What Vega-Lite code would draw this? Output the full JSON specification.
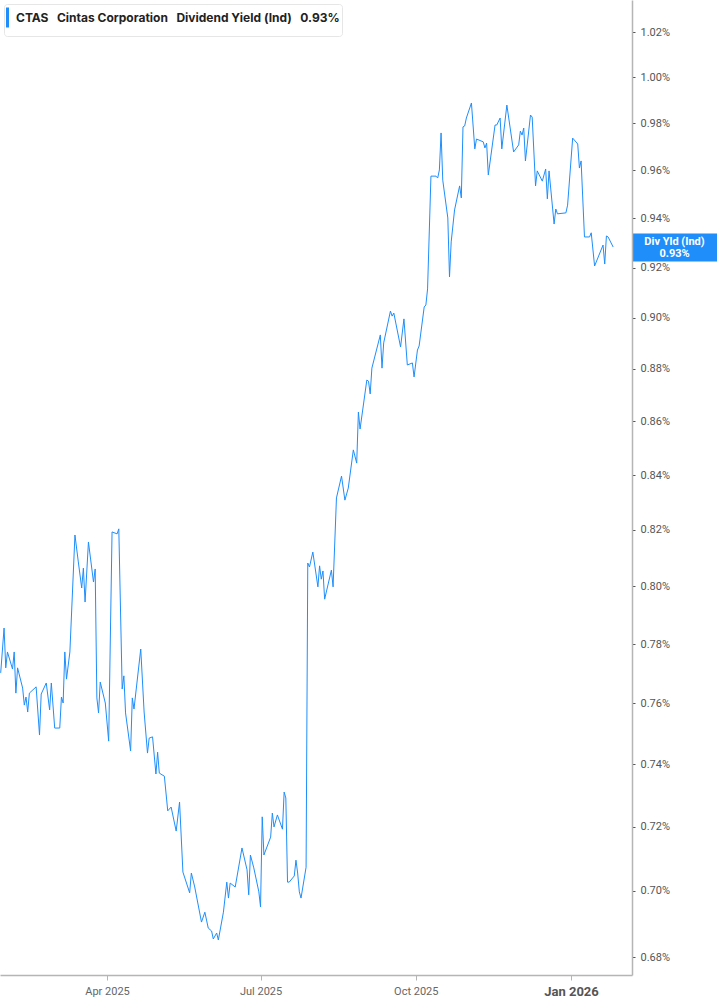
{
  "$schema": "https://vega.github.io/schema/vega-lite/v6.json",
  "width": 632,
  "height": 975,
  "autosize": "none",
  "padding": {"left": 0, "top": 0, "right": 85, "bottom": 30},
  "background": "white",
  "config": {"view": {"stroke": null}, "font": "Roboto"},
  "data": {"values": [
    {"date": "2025-01-28", "yield": 0.7702},
    {"date": "2025-01-30", "yield": 0.7855},
    {"date": "2025-01-31", "yield": 0.7719},
    {"date": "2025-02-01", "yield": 0.7773},
    {"date": "2025-02-04", "yield": 0.7715},
    {"date": "2025-02-05", "yield": 0.7773},
    {"date": "2025-02-06", "yield": 0.7634},
    {"date": "2025-02-07", "yield": 0.7719},
    {"date": "2025-02-10", "yield": 0.7651},
    {"date": "2025-02-11", "yield": 0.7594},
    {"date": "2025-02-12", "yield": 0.7621},
    {"date": "2025-02-13", "yield": 0.7571},
    {"date": "2025-02-14", "yield": 0.7634},
    {"date": "2025-02-18", "yield": 0.7655},
    {"date": "2025-02-20", "yield": 0.7495},
    {"date": "2025-02-21", "yield": 0.7631},
    {"date": "2025-02-24", "yield": 0.7668},
    {"date": "2025-02-26", "yield": 0.7578},
    {"date": "2025-02-27", "yield": 0.7668},
    {"date": "2025-03-01", "yield": 0.7518},
    {"date": "2025-03-04", "yield": 0.7518},
    {"date": "2025-03-05", "yield": 0.7621},
    {"date": "2025-03-06", "yield": 0.7601},
    {"date": "2025-03-07", "yield": 0.7773},
    {"date": "2025-03-08", "yield": 0.7681},
    {"date": "2025-03-10", "yield": 0.7773},
    {"date": "2025-03-13", "yield": 0.8182},
    {"date": "2025-03-15", "yield": 0.8086},
    {"date": "2025-03-17", "yield": 0.7994},
    {"date": "2025-03-18", "yield": 0.8064},
    {"date": "2025-03-19", "yield": 0.7945},
    {"date": "2025-03-21", "yield": 0.8157},
    {"date": "2025-03-24", "yield": 0.8015},
    {"date": "2025-03-25", "yield": 0.8061},
    {"date": "2025-03-26", "yield": 0.7618},
    {"date": "2025-03-27", "yield": 0.7568},
    {"date": "2025-03-28", "yield": 0.7671},
    {"date": "2025-03-31", "yield": 0.7601},
    {"date": "2025-04-02", "yield": 0.7475},
    {"date": "2025-04-04", "yield": 0.8193},
    {"date": "2025-04-07", "yield": 0.8186},
    {"date": "2025-04-08", "yield": 0.8204},
    {"date": "2025-04-10", "yield": 0.7648},
    {"date": "2025-04-11", "yield": 0.7692},
    {"date": "2025-04-12", "yield": 0.7568},
    {"date": "2025-04-15", "yield": 0.7443},
    {"date": "2025-04-16", "yield": 0.7618},
    {"date": "2025-04-17", "yield": 0.7581},
    {"date": "2025-04-21", "yield": 0.7783},
    {"date": "2025-04-23", "yield": 0.7571},
    {"date": "2025-04-25", "yield": 0.7436},
    {"date": "2025-04-26", "yield": 0.7485},
    {"date": "2025-04-28", "yield": 0.7489},
    {"date": "2025-04-30", "yield": 0.7368},
    {"date": "2025-05-01", "yield": 0.7439},
    {"date": "2025-05-02", "yield": 0.7371},
    {"date": "2025-05-05", "yield": 0.7361},
    {"date": "2025-05-07", "yield": 0.7250},
    {"date": "2025-05-09", "yield": 0.7262},
    {"date": "2025-05-12", "yield": 0.7186},
    {"date": "2025-05-14", "yield": 0.7278},
    {"date": "2025-05-16", "yield": 0.7058},
    {"date": "2025-05-20", "yield": 0.6994},
    {"date": "2025-05-21", "yield": 0.7055},
    {"date": "2025-05-23", "yield": 0.7012},
    {"date": "2025-05-27", "yield": 0.6905},
    {"date": "2025-05-29", "yield": 0.6935},
    {"date": "2025-05-31", "yield": 0.6887},
    {"date": "2025-06-02", "yield": 0.6878},
    {"date": "2025-06-03", "yield": 0.6854},
    {"date": "2025-06-05", "yield": 0.6872},
    {"date": "2025-06-06", "yield": 0.6851},
    {"date": "2025-06-09", "yield": 0.6935},
    {"date": "2025-06-11", "yield": 0.7027},
    {"date": "2025-06-12", "yield": 0.6978},
    {"date": "2025-06-13", "yield": 0.7024},
    {"date": "2025-06-16", "yield": 0.7012},
    {"date": "2025-06-20", "yield": 0.7133},
    {"date": "2025-06-23", "yield": 0.7065},
    {"date": "2025-06-24", "yield": 0.6988},
    {"date": "2025-06-25", "yield": 0.7111},
    {"date": "2025-06-27", "yield": 0.7071},
    {"date": "2025-06-30", "yield": 0.6997},
    {"date": "2025-07-01", "yield": 0.6951},
    {"date": "2025-07-02", "yield": 0.7231},
    {"date": "2025-07-03", "yield": 0.7111},
    {"date": "2025-07-07", "yield": 0.7167},
    {"date": "2025-07-08", "yield": 0.7243},
    {"date": "2025-07-09", "yield": 0.7199},
    {"date": "2025-07-11", "yield": 0.7237},
    {"date": "2025-07-14", "yield": 0.7192},
    {"date": "2025-07-15", "yield": 0.7310},
    {"date": "2025-07-16", "yield": 0.7291},
    {"date": "2025-07-17", "yield": 0.7027},
    {"date": "2025-07-18", "yield": 0.7027},
    {"date": "2025-07-21", "yield": 0.7046},
    {"date": "2025-07-22", "yield": 0.7095},
    {"date": "2025-07-23", "yield": 0.7055},
    {"date": "2025-07-24", "yield": 0.6997},
    {"date": "2025-07-25", "yield": 0.6978},
    {"date": "2025-07-28", "yield": 0.7073},
    {"date": "2025-07-29", "yield": 0.8082},
    {"date": "2025-07-30", "yield": 0.8068},
    {"date": "2025-08-01", "yield": 0.8121},
    {"date": "2025-08-04", "yield": 0.7998},
    {"date": "2025-08-05", "yield": 0.8072},
    {"date": "2025-08-06", "yield": 0.8025},
    {"date": "2025-08-07", "yield": 0.8054},
    {"date": "2025-08-08", "yield": 0.7955},
    {"date": "2025-08-12", "yield": 0.8057},
    {"date": "2025-08-13", "yield": 0.7998},
    {"date": "2025-08-15", "yield": 0.8316},
    {"date": "2025-08-18", "yield": 0.8396},
    {"date": "2025-08-20", "yield": 0.8308},
    {"date": "2025-08-22", "yield": 0.8352},
    {"date": "2025-08-25", "yield": 0.8493},
    {"date": "2025-08-27", "yield": 0.8444},
    {"date": "2025-08-28", "yield": 0.8635},
    {"date": "2025-08-29", "yield": 0.8571},
    {"date": "2025-09-02", "yield": 0.8757},
    {"date": "2025-09-03", "yield": 0.8753},
    {"date": "2025-09-04", "yield": 0.8704},
    {"date": "2025-09-05", "yield": 0.8803},
    {"date": "2025-09-10", "yield": 0.8932},
    {"date": "2025-09-11", "yield": 0.8803},
    {"date": "2025-09-12", "yield": 0.8901},
    {"date": "2025-09-16", "yield": 0.9026},
    {"date": "2025-09-17", "yield": 0.9006},
    {"date": "2025-09-18", "yield": 0.9018},
    {"date": "2025-09-22", "yield": 0.8885},
    {"date": "2025-09-24", "yield": 0.8995},
    {"date": "2025-09-26", "yield": 0.8815},
    {"date": "2025-09-29", "yield": 0.8823},
    {"date": "2025-09-30", "yield": 0.8769},
    {"date": "2025-10-02", "yield": 0.8873},
    {"date": "2025-10-03", "yield": 0.8889},
    {"date": "2025-10-06", "yield": 0.9042},
    {"date": "2025-10-07", "yield": 0.9050},
    {"date": "2025-10-08", "yield": 0.9114},
    {"date": "2025-10-10", "yield": 0.9576},
    {"date": "2025-10-13", "yield": 0.9576},
    {"date": "2025-10-14", "yield": 0.9568},
    {"date": "2025-10-15", "yield": 0.9602},
    {"date": "2025-10-16", "yield": 0.9759},
    {"date": "2025-10-17", "yield": 0.9559},
    {"date": "2025-10-20", "yield": 0.9402},
    {"date": "2025-10-21", "yield": 0.9162},
    {"date": "2025-10-22", "yield": 0.9304},
    {"date": "2025-10-24", "yield": 0.9435},
    {"date": "2025-10-27", "yield": 0.9535},
    {"date": "2025-10-28", "yield": 0.9485},
    {"date": "2025-10-29", "yield": 0.9785},
    {"date": "2025-10-30", "yield": 0.9789},
    {"date": "2025-10-31", "yield": 0.9823},
    {"date": "2025-11-03", "yield": 0.9888},
    {"date": "2025-11-05", "yield": 0.9691},
    {"date": "2025-11-06", "yield": 0.9733},
    {"date": "2025-11-10", "yield": 0.9721},
    {"date": "2025-11-11", "yield": 0.9695},
    {"date": "2025-11-12", "yield": 0.9716},
    {"date": "2025-11-13", "yield": 0.9581},
    {"date": "2025-11-17", "yield": 0.9793},
    {"date": "2025-11-18", "yield": 0.9793},
    {"date": "2025-11-20", "yield": 0.9823},
    {"date": "2025-11-21", "yield": 0.9691},
    {"date": "2025-11-24", "yield": 0.9879},
    {"date": "2025-11-28", "yield": 0.9678},
    {"date": "2025-12-01", "yield": 0.9708},
    {"date": "2025-12-02", "yield": 0.9767},
    {"date": "2025-12-03", "yield": 0.9750},
    {"date": "2025-12-04", "yield": 0.9780},
    {"date": "2025-12-05", "yield": 0.9640},
    {"date": "2025-12-08", "yield": 0.9836},
    {"date": "2025-12-09", "yield": 0.9827},
    {"date": "2025-12-11", "yield": 0.9535},
    {"date": "2025-12-12", "yield": 0.9598},
    {"date": "2025-12-15", "yield": 0.9555},
    {"date": "2025-12-17", "yield": 0.9606},
    {"date": "2025-12-18", "yield": 0.9481},
    {"date": "2025-12-19", "yield": 0.9598},
    {"date": "2025-12-22", "yield": 0.9377},
    {"date": "2025-12-23", "yield": 0.9439},
    {"date": "2025-12-24", "yield": 0.9419},
    {"date": "2025-12-29", "yield": 0.9423},
    {"date": "2025-12-30", "yield": 0.9455},
    {"date": "2026-01-02", "yield": 0.9737},
    {"date": "2026-01-05", "yield": 0.9712},
    {"date": "2026-01-06", "yield": 0.9610},
    {"date": "2026-01-07", "yield": 0.9640},
    {"date": "2026-01-09", "yield": 0.9324},
    {"date": "2026-01-12", "yield": 0.9324},
    {"date": "2026-01-13", "yield": 0.9341},
    {"date": "2026-01-15", "yield": 0.9206},
    {"date": "2026-01-20", "yield": 0.9291},
    {"date": "2026-01-21", "yield": 0.9214},
    {"date": "2026-01-22", "yield": 0.9328},
    {"date": "2026-01-23", "yield": 0.9324},
    {"date": "2026-01-26", "yield": 0.9283}
  ]},
  "mark": {"type": "line", "strokeWidth": 1, "interpolate": "linear"},
  "encoding": {
    "x": {
      "field": "date",
      "type": "temporal",
      "scale": {
        "type": "utc",
        "domain": [
          {"year": 2025, "month": 1, "date": 27, "hours": 14, "utc": true},
          {"year": 2026, "month": 2, "date": 6, "hours": 4, "utc": true}
        ]
      },
      "axis": {
        "title": null,
        "grid": false,
        "orient": "bottom",
        "values": [
          {"year": 2025, "month": 4, "date": 1, "utc": true},
          {"year": 2025, "month": 7, "date": 1, "utc": true},
          {"year": 2025, "month": 10, "date": 1, "utc": true},
          {"year": 2026, "month": 1, "date": 1, "utc": true}
        ],
        "labelExpr": "utcFormat(datum.value, '%b %Y')",
        "domainColor": "#b5b5b5",
        "domainWidth": 1.5,
        "tickColor": "#b5b5b5",
        "tickSize": 5,
        "labelPadding": 5,
        "labelFont": "Roboto",
        "labelFontSize": {"condition": {"test": "utcmonth(datum.value) == 0", "value": 13}, "value": 11},
        "labelFontWeight": {"condition": {"test": "utcmonth(datum.value) == 0", "value": "bold"}, "value": "normal"},
        "labelColor": {"condition": {"test": "utcmonth(datum.value) == 0", "value": "#555555"}, "value": "#666666"}
      }
    },
    "y": {
      "field": "yield",
      "type": "quantitative",
      "scale": {"type": "log", "domain": [0.67466, 1.03447], "nice": false, "zero": false},
      "axis": {
        "title": null,
        "grid": false,
        "orient": "right",
        "values": [0.68, 0.70, 0.72, 0.74, 0.76, 0.78, 0.80, 0.82, 0.84, 0.86, 0.88, 0.90, 0.92, 0.94, 0.96, 0.98, 1.00, 1.02, 0.9283],
        "labelOverlap": false,
        "labelBound": false,
        "labelFlush": false,
        "labelExpr": "abs(datum.value - 0.9283) < 0.0001 ? ['Div Yld (Ind)', format(datum.value, '.2f') + '%'] : format(datum.value, '.2f') + '%'",
        "domainColor": "#b5b5b5",
        "domainWidth": 1.5,
        "tickColor": {"condition": {"test": "abs(datum.value - 0.9283) < 0.0001", "value": "#1f8efa"}, "value": "#555555"},
        "tickSize": {"condition": {"test": "abs(datum.value - 0.9283) < 0.0001", "value": 85}, "value": 3},
        "tickWidth": {"condition": {"test": "abs(datum.value - 0.9283) < 0.0001", "value": 28}, "value": 1},
        "labelPadding": {"condition": {"test": "abs(datum.value - 0.9283) < 0.0001", "value": -43}, "value": 5},
        "labelOffset": {"condition": {"test": "abs(datum.value - 0.9283) < 0.0001", "value": -6}, "value": 0},
        "labelAlign": {"condition": {"test": "abs(datum.value - 0.9283) < 0.0001", "value": "center"}, "value": "left"},
        "labelColor": {"condition": {"test": "abs(datum.value - 0.9283) < 0.0001", "value": "#ffffff"}, "value": "#555555"},
        "labelFontWeight": {"condition": {"test": "abs(datum.value - 0.9283) < 0.0001", "value": "bold"}, "value": "normal"},
        "labelFont": "Roboto",
        "labelFontSize": 11,
        "labelLineHeight": 12
      }
    },
    "color": {
      "datum": "CTAS",
      "scale": {"range": ["#1f8efa"]},
      "legend": {
        "title": null,
        "orient": "top-left",
        "offset": 4,
        "padding": 2,
        "fillColor": "#ffffff",
        "strokeColor": "#e6e6e6",
        "cornerRadius": 3,
        "symbolType": "M-1,-1L-1,1",
        "symbolSize": 400,
        "symbolStrokeWidth": 3,
        "symbolOffset": 0,
        "labelExpr": "'CTAS\u00a0\u00a0 Cintas Corporation\u00a0\u00a0 Dividend Yield (Ind)\u00a0\u00a0 0.93%\u00a0'",
        "labelFont": "Inter",
        "labelFontSize": 12,
        "labelFontWeight": "bold",
        "labelColor": "#222222",
        "labelLimit": 0,
        "labelOffset": -13
      }
    }
  }
}
